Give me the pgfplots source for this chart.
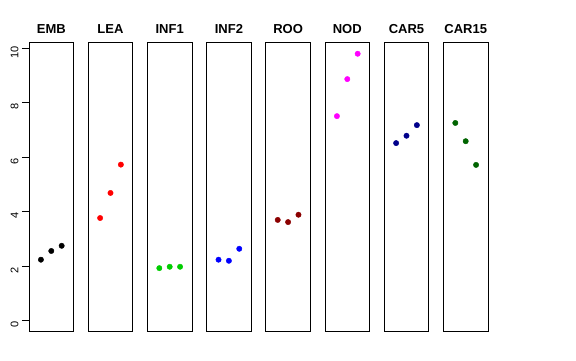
\documentclass[border=0pt]{standalone}
\usepackage{fontspec}
\setmainfont{Liberation Sans}
\usepackage{pgfplots}
\pgfplotsset{compat=1.18}
\definecolor{cEMB}{RGB}{0,0,0}
\definecolor{cLEA}{RGB}{255,0,0}
\definecolor{cINF1}{RGB}{0,205,0}
\definecolor{cINF2}{RGB}{0,0,255}
\definecolor{cROO}{RGB}{139,0,0}
\definecolor{cNOD}{RGB}{255,0,255}
\definecolor{cCAR5}{RGB}{0,0,139}
\definecolor{cCAR15}{RGB}{0,100,0}
\pgfplotsset{
  panel/.style={
    scale only axis, width=44.6pt, height=288.3pt,
    xmin=-0.15, xmax=4.15, ymin=-0.378, ymax=10.206,
    xtick=\empty, ytick=\empty,
    axis line style={black, line width=0.8pt},
    anchor=south west,
    title style={at={(0.5,1)}, anchor=base, yshift=3pt, font=\bfseries\fontsize{13}{13}\selectfont},
    clip=false,
  },
  pts/.style={only marks, mark=*, mark size=2.7pt, mark options={draw=#1, fill=#1}, color=#1},
}
\begin{document}
\begin{tikzpicture}
\useasboundingbox (0,0) rectangle (576pt,360pt);
\begin{axis}[panel, at={(29pt,29pt)}, title={EMB},
  ytick={0,2,4,6,8,10}, ytick pos=left, tick align=outside, major tick length=7pt,
  tick style={black, line width=0.8pt},
  /pgf/number format/assume math mode=true,
  yticklabel style={rotate=90, anchor=south, font=\fontsize{11}{11}\selectfont, xshift=-4pt}]
\addplot[pts=cEMB] coordinates {(1,2.24) (2,2.56) (3,2.75)};
\end{axis}
\begin{axis}[panel, at={(88.2pt,29pt)}, title={LEA}]
\addplot[pts=cLEA] coordinates {(1,3.77) (2,4.69) (3,5.73)};
\end{axis}
\begin{axis}[panel, at={(147.4pt,29pt)}, title={INF1}]
\addplot[pts=cINF1] coordinates {(1,1.93) (2,1.98) (3,1.98)};
\end{axis}
\begin{axis}[panel, at={(206.6pt,29pt)}, title={INF2}]
\addplot[pts=cINF2] coordinates {(1,2.24) (2,2.20) (3,2.64)};
\end{axis}
\begin{axis}[panel, at={(265.8pt,29pt)}, title={ROO}]
\addplot[pts=cROO] coordinates {(1,3.70) (2,3.62) (3,3.89)};
\end{axis}
\begin{axis}[panel, at={(325pt,29pt)}, title={NOD}]
\addplot[pts=cNOD] coordinates {(1,7.51) (2,8.87) (3,9.80)};
\end{axis}
\begin{axis}[panel, at={(384.2pt,29pt)}, title={CAR5}]
\addplot[pts=cCAR5] coordinates {(1,6.52) (2,6.79) (3,7.18)};
\end{axis}
\begin{axis}[panel, at={(443.4pt,29pt)}, title={CAR15}]
\addplot[pts=cCAR15] coordinates {(1,7.26) (2,6.59) (3,5.72)};
\end{axis}
\end{tikzpicture}
\end{document}
